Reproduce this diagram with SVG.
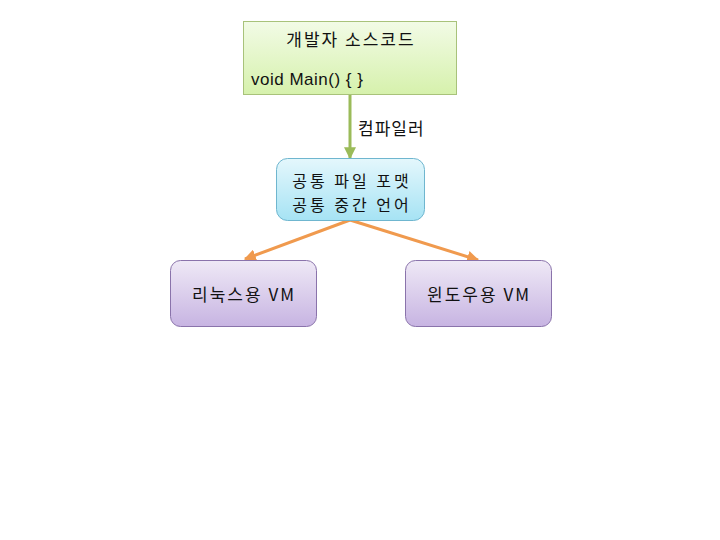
<svg xmlns="http://www.w3.org/2000/svg" width="720" height="540" viewBox="0 0 720 540">
<defs>
<linearGradient id="gGreen" x1="0" y1="0" x2="0" y2="1">
<stop offset="0" stop-color="#f2fbe6"/>
<stop offset="1" stop-color="#d6f1ac"/>
</linearGradient>
<linearGradient id="gCyan" x1="0" y1="0" x2="0" y2="1">
<stop offset="0" stop-color="#e4f7fc"/>
<stop offset="1" stop-color="#a6e3f4"/>
</linearGradient>
<linearGradient id="gPurple" x1="0" y1="0" x2="0" y2="1">
<stop offset="0" stop-color="#efe9f6"/>
<stop offset="1" stop-color="#c7b4e2"/>
</linearGradient>
<marker id="arrG" viewBox="0 0 10 10" refX="9" refY="5" markerWidth="4" markerHeight="4" orient="auto">
<path d="M0,0 L10,5 L0,10 z" fill="#9bbb59"/>
</marker>
<marker id="arrO" viewBox="0 0 10 10" refX="9" refY="5" markerWidth="4" markerHeight="4" orient="auto">
<path d="M0,0 L10,5 L0,10 z" fill="#f09a4e"/>
</marker>
</defs>
<style>
text { font-family: "Noto Sans CJK KR", "Liberation Sans", sans-serif; font-size: 17px; letter-spacing: 2px; fill: #111; }
.lat { font-family: "Liberation Sans", "Noto Sans CJK KR", sans-serif; letter-spacing: 0.5px; }
.c { text-anchor: middle; }
.m { font-size: 16px; letter-spacing: 3px; }
</style>
<g id="connectors">
<line x1="350" y1="94" x2="350" y2="158" stroke="#9bbb59" stroke-width="3" marker-end="url(#arrG)"/>
<text x="358" y="135" style="letter-spacing:1px">컴파일러</text>
<line x1="350" y1="220" x2="245" y2="259" stroke="#f09a4e" stroke-width="3" marker-end="url(#arrO)"/>
<line x1="350" y1="220" x2="478" y2="260" stroke="#f09a4e" stroke-width="3" marker-end="url(#arrO)"/>
</g>
<g id="source">
<rect x="243.5" y="21.5" width="213" height="73" fill="url(#gGreen)" stroke="#a8c27a" stroke-width="1"/>
<text class="c" x="351" y="46">개발자 소스코드</text>
<text class="lat" x="251" y="85">void Main() { }</text>
</g>
<g id="common">
<rect x="276.5" y="158.5" width="148" height="62" rx="11" fill="url(#gCyan)" stroke="#6fb6cf" stroke-width="1"/>
<text class="c m" x="352" y="187">공통 파일 포맷</text>
<text class="c m" x="352" y="211">공통 중간 언어</text>
</g>
<g id="linux">
<rect x="170.5" y="260.5" width="146" height="66" rx="10" fill="url(#gPurple)" stroke="#8a73ab" stroke-width="1"/>
<text class="c" x="244" y="301">리눅스용 VM</text>
</g>
<g id="windows">
<rect x="405.5" y="260.5" width="146" height="66" rx="10" fill="url(#gPurple)" stroke="#8a73ab" stroke-width="1"/>
<text class="c" x="479" y="301">윈도우용 VM</text>
</g>
</svg>
